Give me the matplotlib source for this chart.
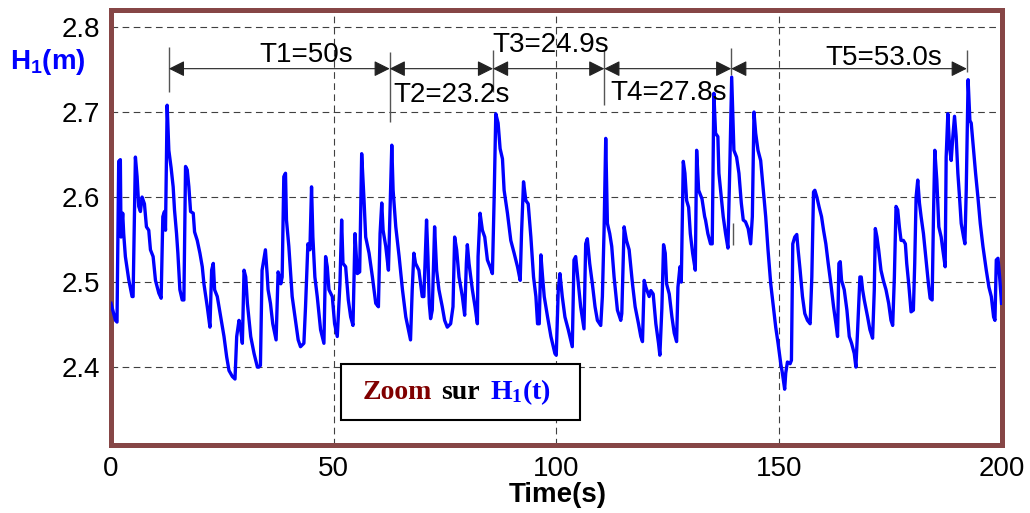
import matplotlib
matplotlib.use("Agg")
import matplotlib.pyplot as plt
from matplotlib.patches import Rectangle
from matplotlib.offsetbox import TextArea, HPacker, AnnotationBbox

plt.rcParams["font.family"] = "Liberation Sans"
plt.rcParams["mathtext.fontset"] = "custom"
plt.rcParams["mathtext.sf"] = "Liberation Sans:bold"
plt.rcParams["mathtext.bf"] = "Liberation Serif:bold"

# WATER LEVEL H1
time_s = [
    0.0, 1.0, 1.35, 1.73, 2.1, 2.25, 2.63, 2.85, 3.23, 3.98, 4.73, 4.96, 5.48, 5.86, 6.23, 6.61,
    6.98, 7.51, 7.96, 8.48, 8.86, 9.46, 9.99, 10.74, 11.26, 11.64, 12.01, 12.24, 12.61, 12.99,
    13.51, 13.96, 14.26, 14.72, 15.02, 15.47, 15.99, 16.37, 16.74, 17.12, 17.49, 17.87, 18.47,
    18.77, 19.37, 19.97, 20.5, 20.87, 21.62, 22.22, 22.6, 22.97, 23.27, 23.87, 24.63, 25.38,
    25.98, 26.5, 27.25, 27.85, 28.23, 28.75, 29.13, 29.5, 29.88, 30.26, 30.63, 31.38, 32.13,
    32.88, 33.18, 33.56, 33.93, 34.31, 34.68, 35.06, 35.28, 35.81, 36.33, 37.08, 37.53, 37.84,
    38.14, 38.44, 38.81, 39.19, 39.41, 39.94, 40.69, 41.44, 42.04, 42.56, 43.32, 43.69, 44.22,
    44.67, 45.04, 45.34, 45.79, 46.32, 47.07, 47.82, 48.2, 48.57, 48.95, 49.7, 50.22, 50.82,
    51.42, 51.8, 52.1, 52.7, 53.3, 53.83, 54.35, 54.8, 55.33, 55.85, 56.3, 56.83, 57.2, 57.96,
    58.71, 59.46, 60.06, 60.43, 60.81, 61.11, 61.71, 62.31, 62.61, 63.06, 63.36, 63.96, 64.71,
    65.46, 66.21, 66.52, 67.27, 67.65, 68.02, 68.4, 69.15, 69.9, 70.27, 70.87, 71.18, 71.48,
    71.78, 72.15, 72.68, 73.13, 73.65, 74.4, 74.93, 75.53, 76.28, 76.81, 77.18, 77.63, 78.16,
    78.91, 79.43, 79.81, 80.03, 80.41, 81.16, 81.76, 82.29, 82.44, 82.89, 83.41, 83.94, 84.54,
    85.14, 85.66, 86.04, 86.42, 86.94, 87.39, 87.92, 88.29, 89.04, 89.79, 90.54, 91.3, 91.9,
    92.2, 92.65, 93.17, 93.7, 94.3, 94.9, 95.43, 95.8, 96.18, 96.55, 96.93, 97.3, 98.05, 98.8,
    99.7, 100.0, 100.45, 100.83, 101.35, 101.95, 102.7, 103.6, 103.98, 104.36, 104.96, 105.48,
    106.23, 106.61, 106.98, 107.51, 108.11, 108.71, 109.24, 109.99, 110.36, 110.74, 111.11,
    111.49, 112.01, 112.46, 112.99, 113.74, 114.49, 114.72, 115.24, 115.77, 116.37, 117.12,
    117.72, 118.47, 118.99, 119.37, 119.75, 120.12, 120.87, 121.25, 121.77, 122.37, 122.97,
    123.27, 123.72, 124.1, 124.48, 124.78, 125.38, 125.98, 126.5, 127.03, 127.33, 127.78,
    128.08, 128.53, 128.9, 129.28, 129.73, 130.11, 130.63, 131.23, 131.53, 131.98, 132.73,
    133.33, 133.53, 134.05, 134.65, 135.03, 135.4, 135.78, 136.3, 136.53, 137.05, 137.5, 138.03,
    138.56, 139.0, 139.4, 139.9, 140.5, 141.03, 141.56, 142.0, 142.5, 143.1, 143.66, 144.04,
    144.41, 144.79, 145.31, 145.91, 146.51, 147.04, 147.56, 148.17, 148.77, 149.29, 149.82,
    150.42, 150.79, 151.3, 151.54, 151.92, 152.52, 152.82, 153.12, 153.57, 154.02, 154.32,
    154.77, 155.3, 155.82, 156.42, 157.02, 157.4, 157.78, 158.08, 158.53, 159.05, 159.58,
    160.03, 160.55, 161.08, 161.68, 162.28, 162.81, 163.18, 163.48, 163.78, 164.08, 164.68,
    165.28, 165.81, 166.33, 166.93, 167.3, 167.68, 168.2, 168.5, 168.8, 169.18, 169.93, 170.45,
    171.05, 171.43, 171.66, 172.03, 172.41, 172.93, 173.46, 174.06, 174.66, 175.18, 175.56,
    175.94, 176.31, 176.69, 177.06, 177.44, 177.96, 178.41, 178.71, 179.16, 179.69, 180.21,
    180.51, 180.82, 181.19, 181.57, 181.94, 182.47, 183.07, 183.59, 183.97, 184.42, 184.72,
    185.02, 185.47, 185.92, 186.45, 186.82, 187.35, 187.57, 187.95, 188.32, 188.7, 189.07,
    189.45, 189.82, 190.2, 190.57, 190.95, 191.48, 191.78, 192.08, 192.5, 192.9, 193.2, 193.73,
    194.18, 194.7, 195.23, 195.83, 196.58, 197.18, 197.71, 198.23, 198.53, 198.83, 199.21,
    199.58, 200.0,
]
h1_m = [
    2.475, 2.455, 2.453, 2.642, 2.644, 2.553, 2.581, 2.557, 2.530, 2.503, 2.483, 2.483, 2.647,
    2.624, 2.589, 2.583, 2.600, 2.592, 2.565, 2.561, 2.538, 2.530, 2.502, 2.487, 2.481, 2.577,
    2.583, 2.561, 2.708, 2.655, 2.634, 2.612, 2.585, 2.557, 2.534, 2.491, 2.479, 2.479, 2.636,
    2.632, 2.612, 2.583, 2.581, 2.559, 2.549, 2.534, 2.518, 2.498, 2.471, 2.447, 2.514, 2.522,
    2.491, 2.483, 2.459, 2.436, 2.412, 2.396, 2.389, 2.386, 2.436, 2.455, 2.444, 2.428, 2.514,
    2.506, 2.475, 2.436, 2.416, 2.400, 2.400, 2.402, 2.514, 2.526, 2.538, 2.510, 2.491, 2.475,
    2.451, 2.432, 2.512, 2.506, 2.498, 2.506, 2.624, 2.628, 2.573, 2.542, 2.483, 2.455, 2.432,
    2.424, 2.428, 2.471, 2.545, 2.538, 2.612, 2.553, 2.506, 2.483, 2.444, 2.428, 2.530, 2.518,
    2.491, 2.483, 2.451, 2.436, 2.498, 2.573, 2.522, 2.518, 2.479, 2.459, 2.449, 2.557, 2.510,
    2.512, 2.651, 2.596, 2.553, 2.534, 2.506, 2.475, 2.471, 2.557, 2.593, 2.561, 2.542, 2.514,
    2.573, 2.661, 2.608, 2.565, 2.530, 2.491, 2.459, 2.451, 2.432, 2.491, 2.534, 2.522, 2.514,
    2.483, 2.483, 2.573, 2.530, 2.475, 2.457, 2.467, 2.565, 2.514, 2.491, 2.471, 2.455, 2.447,
    2.451, 2.471, 2.553, 2.538, 2.506, 2.483, 2.461, 2.522, 2.544, 2.522, 2.491, 2.471, 2.451,
    2.530, 2.581, 2.561, 2.553, 2.526, 2.518, 2.510, 2.596, 2.698, 2.687, 2.657, 2.645, 2.608,
    2.581, 2.549, 2.534, 2.518, 2.502, 2.557, 2.618, 2.596, 2.592, 2.553, 2.506, 2.483, 2.451,
    2.451, 2.532, 2.506, 2.483, 2.459, 2.436, 2.416, 2.414, 2.491, 2.510, 2.483, 2.459, 2.444,
    2.424, 2.526, 2.530, 2.498, 2.471, 2.445, 2.545, 2.551, 2.522, 2.498, 2.471, 2.455, 2.449,
    2.483, 2.561, 2.669, 2.569, 2.557, 2.542, 2.506, 2.467, 2.455, 2.463, 2.565, 2.549, 2.538,
    2.498, 2.471, 2.451, 2.436, 2.430, 2.502, 2.494, 2.483, 2.490, 2.486, 2.451, 2.428, 2.414,
    2.469, 2.544, 2.534, 2.498, 2.486, 2.459, 2.440, 2.430, 2.494, 2.518, 2.500, 2.642, 2.628,
    2.596, 2.588, 2.557, 2.534, 2.514, 2.655, 2.608, 2.598, 2.577, 2.573, 2.557, 2.545, 2.545,
    2.722, 2.675, 2.671, 2.628, 2.600, 2.577, 2.557, 2.540, 2.640, 2.741, 2.655, 2.647, 2.628,
    2.593, 2.573, 2.571, 2.563, 2.545, 2.577, 2.700, 2.675, 2.655, 2.643, 2.608, 2.577, 2.538,
    2.498, 2.471, 2.447, 2.428, 2.404, 2.393, 2.374, 2.393, 2.406, 2.404, 2.408, 2.545, 2.553,
    2.556, 2.538, 2.514, 2.483, 2.463, 2.455, 2.451, 2.506, 2.606, 2.608, 2.600, 2.588, 2.577,
    2.561, 2.545, 2.522, 2.498, 2.471, 2.451, 2.436, 2.522, 2.524, 2.502, 2.491, 2.467, 2.436,
    2.428, 2.416, 2.400, 2.443, 2.506, 2.506, 2.491, 2.479, 2.459, 2.444, 2.434, 2.491, 2.563,
    2.553, 2.538, 2.514, 2.502, 2.491, 2.475, 2.455, 2.449, 2.506, 2.589, 2.585, 2.565, 2.549,
    2.549, 2.545, 2.522, 2.498, 2.465, 2.467, 2.522, 2.600, 2.620, 2.593, 2.577, 2.557, 2.526,
    2.498, 2.481, 2.479, 2.577, 2.655, 2.620, 2.565, 2.553, 2.538, 2.518, 2.647, 2.698, 2.659,
    2.643, 2.671, 2.695, 2.671, 2.628, 2.600, 2.569, 2.553, 2.545, 2.608, 2.738, 2.690, 2.687,
    2.655, 2.628, 2.600, 2.569, 2.542, 2.514, 2.494, 2.483, 2.459, 2.455, 2.526, 2.528, 2.506,
    2.475,
]

x_ticks = [0, 50, 100, 150, 200]
y_ticks = [2.4, 2.5, 2.6, 2.7, 2.8]

# PERIOD MARKERS
period_marks = [13.0, 62.6, 85.8, 110.8, 139.3, 192.2]
period_labels = ["T1=50s", "T2=23.2s", "T3=24.9s", "T4=27.8s", "T5=53.0s"]

# layout of the annotations
label_pos = [(43.8, 2.759), (76.4, 2.712), (98.8, 2.771), (125.2, 2.714), (173.5, 2.755)]
mark_top = [2.776, 2.771, 2.773, 2.773, 2.775, 2.773]
mark_bottom = [2.724, 2.688, 2.724, 2.708, 2.744, 2.747]
arrow_y = 2.751

fig = plt.figure(figsize=(10.3, 5.13), dpi=100)
ax = fig.add_axes([111 / 1030, 1 - 444.5 / 513, 890.5 / 1030, 434.5 / 513])

ax.plot(time_s, h1_m, color="#0000FF", lw=2.4, zorder=3)
ax.set_xlim(0, 200)
ax.set_ylim(2.309, 2.82)
ax.set_xticks(x_ticks)
ax.set_yticks(y_ticks)
ax.set_yticklabels([f"{v:.1f}" for v in y_ticks])
ax.tick_params(length=0, labelsize=20, pad=8)
ax.grid(True, color="#404040", linestyle=(0, (6, 4)), linewidth=0.8)
for spine in ax.spines.values():
    spine.set_color("#864646")
    spine.set_linewidth(3.6)

# double arrows between peaks
for i in range(len(period_labels)):
    ax.annotate("", xy=(period_marks[i + 1], arrow_y), xytext=(period_marks[i], arrow_y),
                arrowprops=dict(arrowstyle="<|-|>", color="#222222", lw=0.8,
                                shrinkA=0, shrinkB=0, mutation_scale=24))
    ax.text(label_pos[i][0], label_pos[i][1], period_labels[i], fontsize=20,
            ha="center", va="baseline", zorder=4)
ax.vlines(period_marks, mark_bottom, mark_top, color="#555555", lw=1)
ax.vlines([139.8], [2.544], [2.569], color="#555555", lw=1)

# ZOOM BOX
ax.add_patch(Rectangle((51.7, 2.3376), 53.7, 0.0659, facecolor="white",
                       edgecolor="black", lw=1.5, zorder=4))
t1 = TextArea("Zoom", textprops=dict(color="#800000", family="Liberation Serif",
                                      weight="bold", size=20))
t2 = TextArea("sur", textprops=dict(color="black", family="Liberation Serif",
                                     weight="bold", size=20))
t3 = TextArea(r"$\mathbf{H_1(t)}$", textprops=dict(color="#0000FF", size=20))
pack = HPacker(children=[t1, t2, t3], align="baseline", pad=0, sep=7)
ab = AnnotationBbox(pack, (77.6, 2.3706), xycoords="data", box_alignment=(0.5, 0.5),
                    frameon=False, zorder=5)
ax.add_artist(ab)

fig.text(48 / 1030, 1 - 62 / 513, r"$\mathsf{H_1(m)}$", color="#0000FF", fontsize=20,
         ha="center", va="center")
fig.text(558 / 1030, 1 - 495 / 513, "Time(s)", fontsize=20, fontweight="bold",
         ha="center", va="center")

plt.savefig("out.png", dpi=100)
plt.close()
